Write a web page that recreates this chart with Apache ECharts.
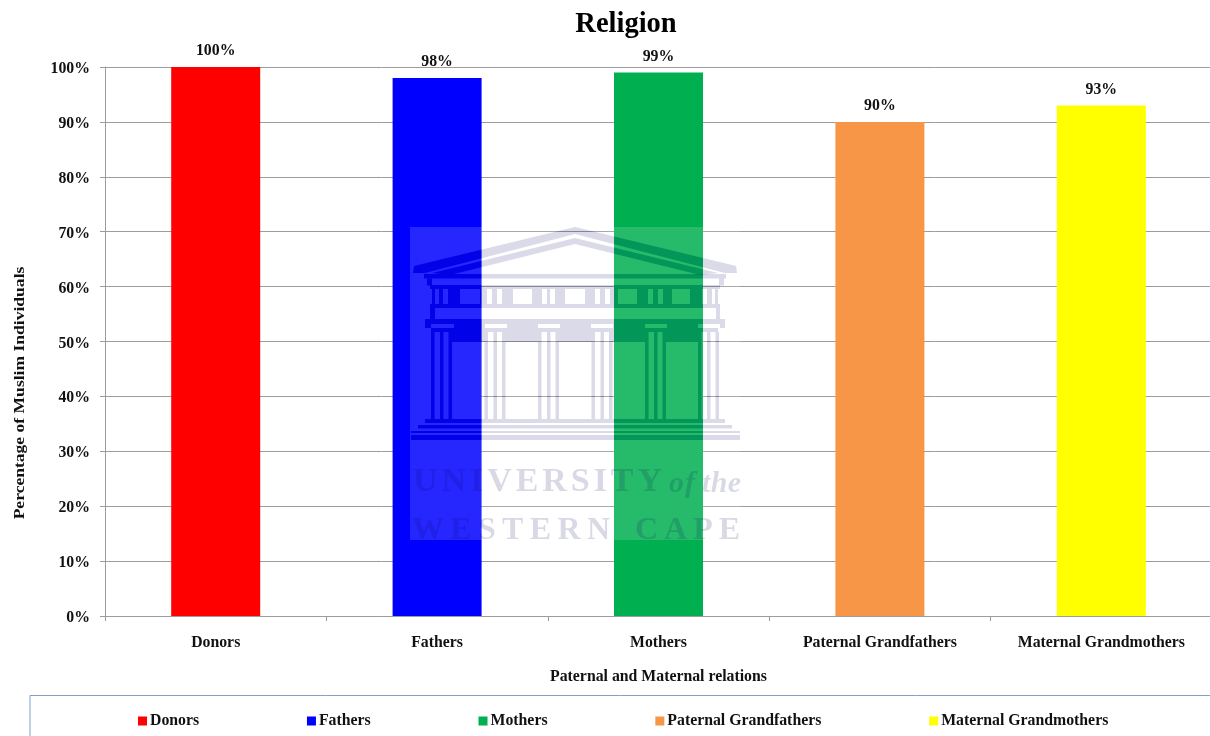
<!DOCTYPE html>
<html><head><meta charset="utf-8">
<style>html,body{margin:0;padding:0;background:#fff;overflow:hidden}#c{width:1210px;height:736px}</style>
<script src="https://cdn.jsdelivr.net/npm/echarts@6/dist/echarts.min.js"></script>
</head><body><div id="c"></div><script>
const categories = ['Donors','Fathers','Mothers','Paternal Grandfathers','Maternal Grandmothers'];
const values = [100,98,99,90,93];
const colors = ['#ff0000','#0000ff','#00b050','#f79646','#ffff00'];
const yTicks = [0,10,20,30,40,50,60,70,80,90,100];
const FONT = '"Liberation Serif","Times New Roman",serif';
const INK = '#111111';
const yTitle = 'Percentage of Muslim Individuals';
const xTitle = 'Paternal and Maternal relations';

// ---- watermark (decorative crest, not data) ----
const BURN = '#dbdbf0', MULT = '#dadae9';
const crestPolys = [
  [[414,266],[575,227],[736,266],[737,273],[725,273],[575,234],[425,273],[413,273]],
  [[432,273],[575,238],[718,273],[700,275],[575,244],[450,275]]
];
const crestRects = [
  [424,274,302,4.5],[427,278.5,5,7],[719,278.5,5,7],
  [430,285,290,4],[430,304,290,4],
  [430,308,5,11],[716,308,4,11],
  [425,319,300,5],[425,324,6,4],[454,324,31,4],[507,324,31,4],[560,324,31,4],[613,324,32,4],[667,324,31,4],[720,324,5,4],
  [431,328,287,4]
];
[[432,435],[439,443],[448,460],[480,487],[492,497],[502,513],[532,542],[547,550],[555,565],[585,595],
 [600,605],[610,618],[637,648],[653,658],[663,672],[690,702],[707,712],[715,718]
].forEach(p=>crestRects.push([p[0],289,p[1]-p[0],15]));
[431,484.5,538,591.5,645,698].forEach((x,i)=>{
  [0,9,17.5].forEach(d=>crestRects.push([x+d,332,3.5,87]));
  if(i<5) crestRects.push([x+21,332,[484.5,538,591.5,645,698][i]-x-21,10]);
});
crestRects.push([425,419,300,4],[418,425,314,3.5],[411,431,329,2],[411,435,329,5]);

function crest(blend, fill){
  const out = [];
  crestPolys.forEach(points=>out.push({type:'polygon',silent:true,z:50,shape:{points},style:{fill,blend}}));
  crestRects.forEach(r=>out.push({type:'rect',silent:true,z:50,shape:{x:r[0],y:r[1],width:r[2],height:r[3]},style:{fill,blend}}));
  return out;
}
const measure = document.createElement('canvas').getContext('2d');
function spaced(text, x0, x1, cy, font, fill){
  measure.font = font;
  const chars = [...text];
  const w = chars.map(c=>measure.measureText(c).width);
  const gap = (x1-x0-w.reduce((a,b)=>a+b,0))/(chars.length-1);
  let x = x0; const out = [];
  chars.forEach((c,i)=>{
    out.push({type:'text',silent:true,z:51,x,y:cy,style:{text:c,font,fill,verticalAlign:'middle',align:'left'}});
    x += w[i]+gap;
  });
  return out;
}
function crestText(fill){
  const f = 'bold 34px "Liberation Serif",serif', it='italic bold 30px "Liberation Serif",serif', f2='bold 32px "Liberation Serif",serif';
  return [
    ...spaced('UNIVERSITY',413,662,482,f,fill),
    ...spaced('of',669,695,484,it,fill),
    ...spaced('the',702,741,484,it,fill),
    ...spaced('WESTERN',412,610,531,f2,fill),
    ...spaced('CAPE',635,740,531,f2,fill)
  ];
}
const watermark = [
  {type:'rect',silent:true,z:49,shape:{x:410,y:227,width:330,height:313},style:{fill:'rgba(255,255,255,0.15)'}},
  ...crest('color-burn',BURN), ...crest('multiply',MULT),
  ...crestText('rgba(0,0,90,0.15)')
];

const series = categories.map((name,i)=>({
  name, type:'bar', stack:'all', barWidth:89,
  data: values.map((v,j)=> j===i ? v : null),
  itemStyle:{color:colors[i]},
  label:{show:true,position:'top',distance:8,formatter:p=>p.value+'%',
         fontFamily:FONT,fontWeight:'bold',fontSize:15.8,color:INK},
  emphasis:{disabled:true}
}));

const chart = echarts.init(document.getElementById('c'),null,{renderer:'canvas'});
chart.setOption({
  animation:false,
  backgroundColor:'#ffffff',
  title:{text:'Religion',left:621,top:5,textAlign:'center',
         textStyle:{fontFamily:FONT,fontWeight:'bold',fontSize:28.5,color:'#000'}},
  grid:{left:105,right:-2,top:67,height:549,outerBoundsMode:'none'},
  xAxis:{type:'category',data:categories,
    name:xTitle,nameLocation:'middle',nameGap:53,
    nameTextStyle:{fontFamily:FONT,fontWeight:'bold',fontSize:15.8,color:INK},
    axisLine:{lineStyle:{color:'#9c9c9c',width:1}},
    axisTick:{show:true,alignWithLabel:false,length:5,lineStyle:{color:'#9c9c9c'}},
    axisLabel:{margin:19,interval:0,fontFamily:FONT,fontWeight:'bold',fontSize:15.8,color:INK}},
  yAxis:{type:'value',min:yTicks[0],max:yTicks[yTicks.length-1],interval:10,
    axisLine:{show:true,lineStyle:{color:'#9c9c9c',width:1}},
    axisTick:{show:true,length:5,lineStyle:{color:'#9c9c9c'}},
    splitLine:{show:true,lineStyle:{color:'#9c9c9c',width:1}},
    axisLabel:{margin:15,formatter:'{t|{value}%}',
      rich:{t:{padding:[4,0,0,0],fontFamily:FONT,fontWeight:'bold',fontSize:15.8,color:INK}}}},
  legend:{left:138,top:713,padding:0,itemGap:107.8,itemWidth:9,itemHeight:9,icon:'rect',selectedMode:false,
    textStyle:{fontFamily:FONT,fontWeight:'bold',fontSize:15.8,color:INK,padding:[0,0,0,-2]},
    data:categories},
  graphic:[
    {type:'rect',silent:true,z:0,shape:{x:30,y:695.5,width:1300,height:100},
     style:{fill:'none',stroke:'#7f9fcf',lineWidth:1}},
    {type:'text',silent:true,z:5,x:20.5,y:393,rotation:Math.PI/2,scaleX:1.17,
     style:{text:yTitle,font:'bold 15px "Liberation Serif",serif',fill:INK,align:'center',verticalAlign:'middle'}},
    ...watermark
  ],
  series
});
</script></body></html>
